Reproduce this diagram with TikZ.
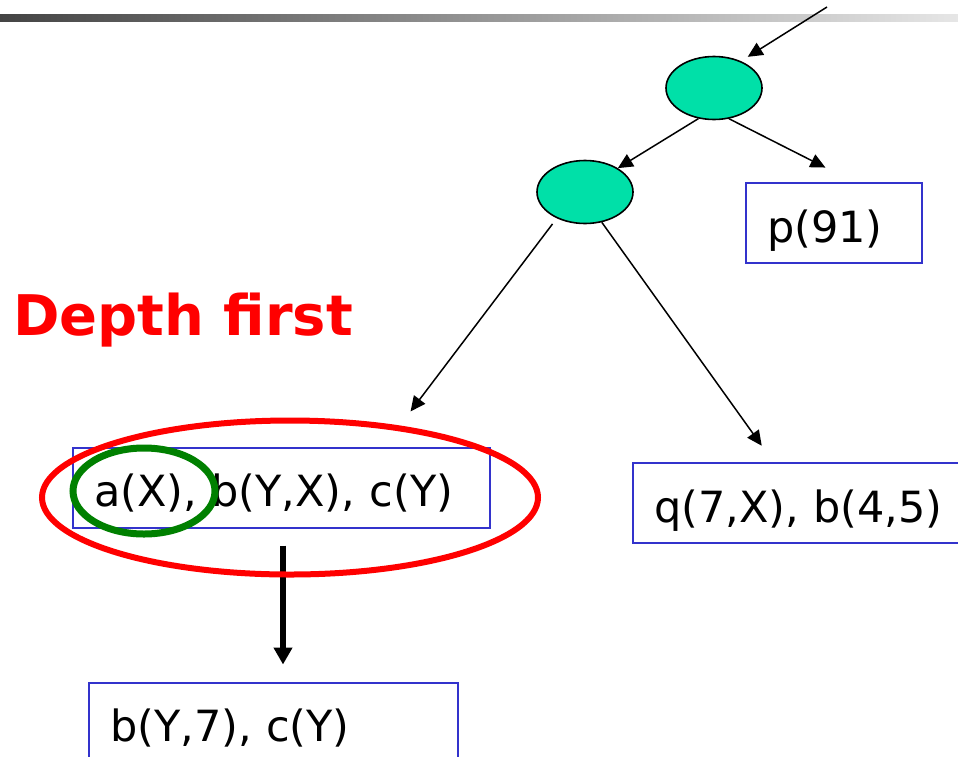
\documentclass[tikz,border=0pt]{standalone}
\usepackage{fontspec}
\setmainfont{DejaVu Sans}
\usepackage{xcolor}
\usetikzlibrary{arrows.meta,shapes.geometric,positioning}
\definecolor{goalblue}{RGB}{51,51,204}
\definecolor{choicegreen}{RGB}{0,224,168}
\definecolor{barleft}{RGB}{68,68,68}
\definecolor{barright}{RGB}{230,230,230}
\definecolor{hlgreen}{RGB}{0,128,0}

\begin{document}
\begin{tikzpicture}[x=1pt,y=-1pt,font=\fontsize{43}{50}\selectfont,
  goal/.style={draw=goalblue, line width=2pt, inner xsep=21pt, align=left, text height=40pt, text depth=2pt, minimum height=80pt},
  choice/.style={ellipse, draw, line width=1.6pt, fill=choicegreen, minimum width=96pt, minimum height=63pt},
  arr/.style={line width=1.5pt, -{Triangle[length=15pt,width=14pt]}},
  bigarr/.style={line width=6pt, -{Triangle[length=17pt,width=18pt]}}]
  \clip (0,0) rectangle (958,756);
  % title bar
  \shade[left color=barleft, right color=barright] (0,14) rectangle (958,21);

  % search tree
  \node[choice] (e1) at (714,88) {};
  \node[choice] (e2) at (585,192) {};
  \node[goal, text width=134pt] (p91) at (834,223) {p(91)};
  \node[goal, text width=375pt] (goalA) at (281.5,487.5) {a(X), b(Y,X), c(Y)};
  \node[goal, text width=298pt] (goalQ) at (803,503) {q(7,X), b(4,5)};
  \node[goal, text width=327pt, below=153pt of goalA.south west, anchor=north west, xshift=16pt] (goalB) {b(Y,7), c(Y)};

  \node[anchor=base west, inner sep=0pt, text=red, font=\fontsize{56}{64}\selectfont\bfseries] (dfs) at (13,335) {Depth first};

  % edges
  \coordinate (entry) at (827,7);
  \draw[arr, shorten >=8pt] (entry) -- (e1.45);
  \draw[arr] (e1.243) -- (e2.36);
  \draw[arr, shorten >=32pt] (e1.296) -- ([xshift=20pt]p91.north);
  \draw[arr, shorten <=7pt, shorten >=44pt] (e2.223) -- ([xshift=102.5pt]goalA.north);
  \draw[arr, shorten >=20pt] (e2.299) -- ([xshift=-29.6pt]goalQ.north);
  \draw[bigarr, shorten <=17pt, shorten >=17pt] ([xshift=1.5pt]goalA.south) -- ([xshift=1.5pt]goalA.south |- goalB.north);

  % selected goal and leftmost literal
  \draw[red, line width=6pt] (290,497.5) ellipse [x radius=248pt, y radius=77pt];
  \draw[hlgreen, line width=7pt] (144,491) ellipse [x radius=71pt, y radius=43pt];
\end{tikzpicture}
\end{document}
